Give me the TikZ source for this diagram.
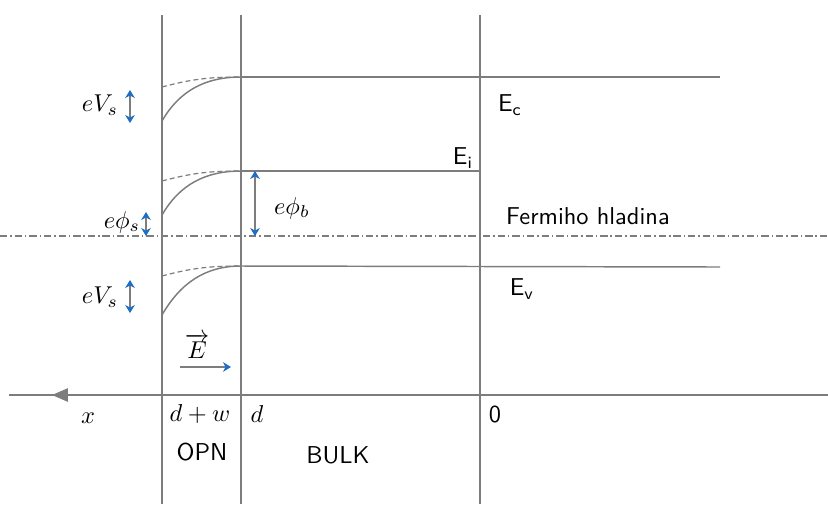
\documentclass[tikz,border=0pt]{standalone}
\usepackage{amsmath,amssymb}
\usepackage{tikz}
\usetikzlibrary{arrows.meta}
\usepackage{xcolor}
\definecolor{linegray}{RGB}{125,125,125}
\definecolor{tipblue}{RGB}{30,110,195}

\begin{document}
\begin{tikzpicture}[x=0.0144cm, y=-0.0144cm, >=Stealth, font=\sffamily,
  band/.style={linegray, line width=0.6pt},
  bent/.style={linegray, line width=0.6pt},
  flat/.style={linegray, line width=0.5pt, dash pattern=on 2pt off 1.3pt},
  gap/.style={linegray, line width=0.6pt, {Stealth[tipblue,length=3.3pt,width=4pt]}-{Stealth[tipblue,length=3.3pt,width=4pt]}}]
\useasboundingbox (0,0) rectangle (828,504);
\draw[band] (162,15) -- (162,504);
\draw[band] (241,15) -- (241,504);
\draw[band] (480,15) -- (480,504);
\draw[band] (241,77) -- (720,77);
\draw[band] (241,171) -- (480,171);
\draw[band] (241,266) -- (720,267);
\draw[bent] (162,121) to[out=60,in=180] (241,77);
\draw[bent] (162,215) to[out=60,in=180] (241,171);
\draw[bent] (162,315) to[out=60,in=180] (241,266);
\draw[flat] (162,87) to[out=15,in=180] (241,77);
\draw[flat] (162,181) to[out=15,in=180] (241,171);
\draw[flat] (162,276) to[out=15,in=180] (241,266);
\draw[linegray, line width=0.5pt, dash pattern=on 3pt off 1.2pt on 0.6pt off 1.2pt] (0,236) -- (828,236);
\draw[band] (9,395) -- (828,395);
\draw[linegray, -{Triangle[length=6.5pt,width=5.5pt]}] (80,395) -- (52,395);
\draw[gap] (130,90) -- (130,123);
\draw[gap] (146,212) -- (146,236);
\draw[gap] (255,171) -- (255,236);
\draw[gap] (130,280) -- (130,313);
\draw[band, -{Stealth[tipblue,length=3.3pt,width=4pt]}] (180,367) -- (231,367);
\node (evsup) at (100,105) {$eV_s$};
\node (ephis) at (122,222) {$e\phi_s$};
\node (ephib) at (292,208) {$e\phi_b$};
\node (evsdn) at (100,297) {$eV_s$};
\node (ec) at (510,105) {E\textsubscript{c}};
\node (ei) at (463,158) {E\textsubscript{i}};
\node (ef) at (588,216) {Fermiho hladina};
\node (ev) at (522,289) {E\textsubscript{v}};
\node (field) at (197,346) {$\overrightarrow{E}$};
\node (xlab) at (88,418) {$x$};
\node (dw) at (200,414) {$d+w$};
\node (dlab) at (257,414) {$d$};
\node (zero) at (495,414) {0};
\node (opn) at (202,452) {OPN};
\node (bulk) at (338,455) {BULK};
\end{tikzpicture}
\end{document}
